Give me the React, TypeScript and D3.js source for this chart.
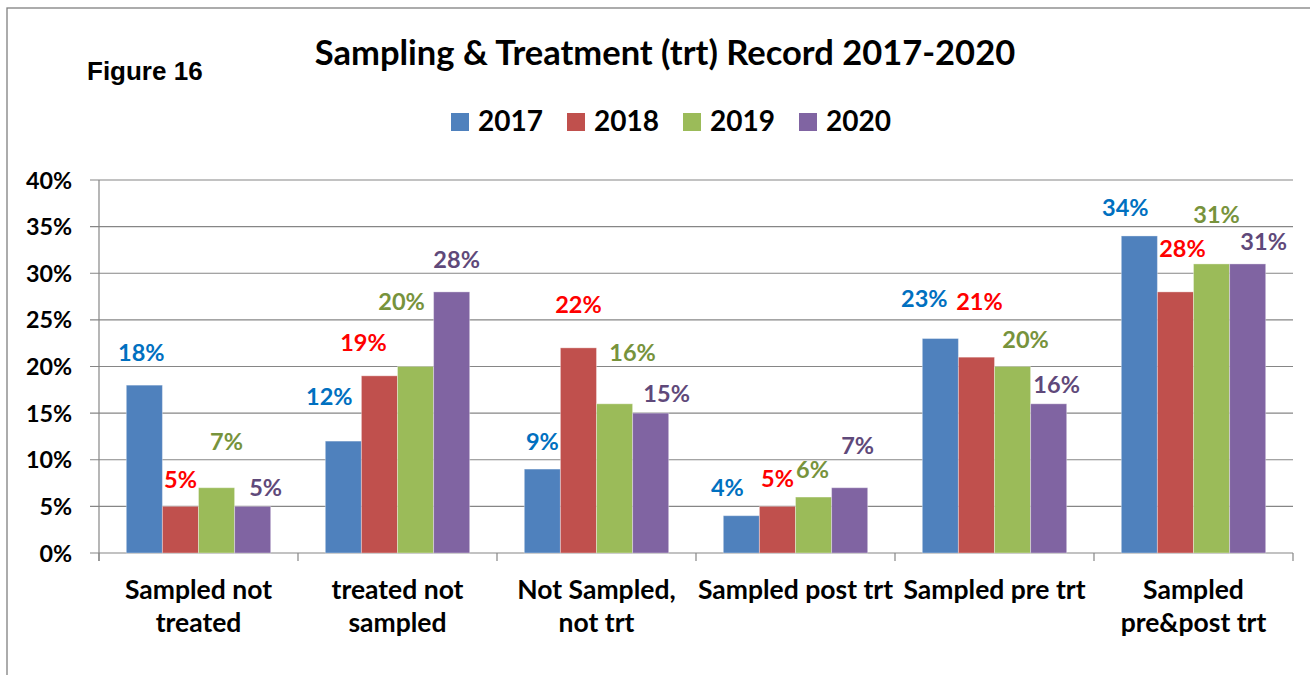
import React from "react";
import * as d3 from "d3";

const categories: string[][] = [
  ["Sampled not", "treated"],
  ["treated not", "sampled"],
  ["Not Sampled,", "not trt"],
  ["Sampled post trt"],
  ["Sampled pre trt"],
  ["Sampled", "pre&post trt"],
];
const seriesNames = ["2017", "2018", "2019", "2020"];
const v2017 = [18, 12, 9, 4, 23, 34];
const v2018 = [5, 19, 22, 5, 21, 28];
const v2019 = [7, 20, 16, 6, 20, 31];
const v2020 = [5, 28, 15, 7, 16, 31];
const yTicks = [0, 5, 10, 15, 20, 25, 30, 35, 40];

// label nudges (dx, dy) relative to bar centre / bar top, as placed in the original
const nudge2017 = [[-3, -32], [-14, -44], [0, -27], [-14, -28], [-16, -40], [-14, -28]];
const nudge2018 = [[0, -26], [-16, -33], [0, -43], [0, -27], [3, -55], [7, -43]];
const nudge2019 = [[10, -46], [-14, -65], [18, -51], [-1, -27], [13, -27], [5, -49]];
const nudge2020 = [[13, -18], [5, -32], [16, -19], [8, -42], [8, -19], [16, -22]];

const barColors = ["#4F81BD", "#C0504D", "#9BBB59", "#8064A2"];
const labelColors = ["#0070C0", "#FF0000", "#77933C", "#5F497A"];

const W = 1310;
const H = 675;
const left = 99;
const right = 1293;
const top = 180;
const bottom = 553;
const FONT = "Lato, 'Open Sans', sans-serif";

export default function App() {
  const values = [v2017, v2018, v2019, v2020];
  const nudges = [nudge2017, nudge2018, nudge2019, nudge2020];
  const idx = categories.map((_, i) => i);
  const x0 = d3
    .scaleBand<number>()
    .domain(idx)
    .range([left, right])
    .paddingInner(0.2745)
    .paddingOuter(0.2745 / 2);
  const x1 = d3
    .scaleBand<number>()
    .domain(seriesNames.map((_, i) => i))
    .range([0, x0.bandwidth()]);
  const y = d3.scaleLinear().domain([0, 40]).range([bottom, top]);
  const step = x0.step();
  const catEdges = d3.range(categories.length + 1).map((i) => left + i * step);

  return (
    <svg
      width={W}
      height={H}
      style={{ position: "absolute", left: 0, top: 0, background: "#fff" }}
      fontFamily={FONT}
    >
      <rect x={7} y={8} width={W + 20} height={H + 20} fill="#fff" stroke="#808080" strokeWidth={1.3} />
      <text x={87} y={80} fontFamily="'Liberation Sans', Arial, sans-serif" fontWeight="bold" fontSize={26} fill="#000">
        Figure 16
      </text>
      <text x={665} y={65} textAnchor="middle" fontWeight="bold" fontSize={34.5} fill="#000">
        Sampling &amp; Treatment (trt) Record 2017-2020
      </text>
      {/* legend */}
      {seriesNames.map((s, i) => (
        <g key={s} transform={`translate(${451 + i * 116},0)`}>
          <rect x={0} y={113} width={18} height={18} fill={barColors[i]} />
          <text x={27} y={131} fontWeight="bold" fontSize={28} fill="#000">
            {s}
          </text>
        </g>
      ))}
      {/* gridlines */}
      {yTicks.map((t) => (
        <g key={t}>
          <line x1={90} x2={right} y1={y(t)} y2={y(t)} stroke="#868686" strokeWidth={1.2} />
          <text x={72} y={y(t) + 8.5} textAnchor="end" fontWeight="bold" fontSize={23.3} fill="#000">
            {t}%
          </text>
        </g>
      ))}
      <line x1={left} x2={left} y1={top} y2={bottom + 8} stroke="#868686" strokeWidth={1.2} />
      {catEdges.map((e, i) => (
        <line key={i} x1={e} x2={e} y1={bottom} y2={bottom + 8} stroke="#868686" strokeWidth={1.2} />
      ))}
      {/* bars */}
      {idx.map((ci) => (
        <g key={ci} transform={`translate(${x0(ci)},0)`}>
          {values.map((vals, si) => (
            <rect
              key={si}
              x={x1(si)}
              y={y(vals[ci])}
              width={x1.bandwidth()}
              height={bottom - y(vals[ci])}
              fill={barColors[si]}
              stroke="rgba(255,255,255,0.35)"
              strokeWidth={1}
            />
          ))}
        </g>
      ))}
      {/* data labels */}
      {idx.map((ci) =>
        values.map((vals, si) => {
          const cx = (x0(ci) as number) + (x1(si) as number) + x1.bandwidth() / 2;
          const [dx, dy] = nudges[si][ci];
          return (
            <text
              key={`${ci}-${si}`}
              x={cx + dx}
              y={y(vals[ci]) + dy + 8}
              textAnchor="middle"
              fontWeight="bold"
              fontSize={23.5}
              fill={labelColors[si]}
            >
              {vals[ci]}%
            </text>
          );
        })
      )}
      {/* category labels */}
      {categories.map((lines, ci) => (
        <text
          key={ci}
          x={(x0(ci) as number) + x0.bandwidth() / 2}
          y={599}
          textAnchor="middle"
          fontWeight="bold"
          fontSize={26.5}
          fill="#000"
        >
          {lines.map((l, li) => (
            <tspan key={li} x={(x0(ci) as number) + x0.bandwidth() / 2} y={599 + li * 33}>
              {l}
            </tspan>
          ))}
        </text>
      ))}
    </svg>
  );
}
